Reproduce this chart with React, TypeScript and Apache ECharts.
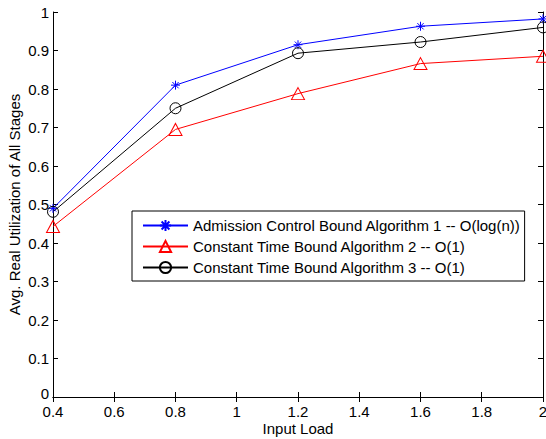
import React, { useEffect, useRef } from "react";
import * as echarts from "echarts";

const inputLoad = [0.4, 0.8, 1.2, 1.6, 2.0];
const algo1 = [0.49, 0.81, 0.915, 0.963, 0.982];
const algo2 = [0.443, 0.695, 0.788, 0.866, 0.885];
const algo3 = [0.481, 0.75, 0.893, 0.922, 0.96];
const seriesNames = [
  "Admission Control Bound Algorithm 1 -- O(log(n))",
  "Constant Time Bound Algorithm 2 -- O(1)",
  "Constant Time Bound Algorithm 3 -- O(1)",
];

const FONT = "'Liberation Sans', Arial, Helvetica, sans-serif";
const STAR = "path://M5 0 L5 10 M0 5 L10 5 M1.5 1.5 L8.5 8.5 M8.5 1.5 L1.5 8.5";
const TRI = "path://M5 0 L10 9 L0 9 Z";
const CIRC = "path://M10 5 A5 5 0 1 1 0 5 A5 5 0 1 1 10 5 Z";

const toPairs = (ys: number[]) => inputLoad.map((x, i) => [x, ys[i]]);

export default function App() {
  const ref = useRef<HTMLDivElement>(null);
  useEffect(() => {
    document.body.style.margin = "0";
    const chart = echarts.init(ref.current!, null, { renderer: "svg" });
    const axisCommon = {
      axisLine: { show: true, lineStyle: { color: "#000", width: 1 } },
      axisTick: { show: true, inside: true, length: 5, lineStyle: { color: "#000" } },
      splitLine: { show: false },
    };
    const txt = { fontFamily: FONT, fontSize: 15, color: "#000" };
    chart.setOption({
      animation: false,
      backgroundColor: "#fff",
      textStyle: { fontFamily: FONT },
      grid: {
        left: 53,
        right: 3,
        top: 12,
        bottom: 42,
        containLabel: false,
        outerBoundsMode: "none",
      },
      legend: {
        orient: "vertical",
        left: 132,
        top: 211,
        backgroundColor: "#fff",
        borderColor: "#000",
        borderWidth: 1,
        borderRadius: 0,
        padding: [7, 4, 6, 10],
        itemWidth: 45,
        itemHeight: 14,
        itemGap: 6,
        textStyle: { ...txt, lineHeight: 15 },
        data: seriesNames,
      },
      xAxis: [
        {
          type: "value",
          min: 0.4,
          max: 2,
          interval: 0.2,
          name: "Input Load",
          nameLocation: "middle",
          nameGap: 24,
          nameMoveOverlap: false,
          nameTextStyle: { ...txt, lineHeight: 14 },
          axisLabel: {
            ...txt,
            lineHeight: 12,
            margin: 8,
            formatter: (v: number) => String(Math.round(v * 10) / 10),
          },
          ...axisCommon,
        },
        {
          type: "value",
          position: "top",
          min: 0.4,
          max: 2,
          interval: 0.2,
          axisLabel: { show: false },
          ...axisCommon,
        },
      ],
      yAxis: [
        {
          type: "value",
          min: 0,
          max: 1,
          interval: 0.1,
          name: "Avg. Real Utilization of All Stages",
          nameLocation: "middle",
          nameGap: 31,
          nameMoveOverlap: false,
          nameTextStyle: txt,
          axisLabel: {
            ...txt,
            lineHeight: 12,
            margin: 4,
            formatter: (v: number) =>
              v === 0 ? "{z|0}" : String(Math.round(v * 10) / 10),
            rich: {
              z: { ...txt, lineHeight: 12, padding: [0, 0, 7, 0] },
            },
          },
          ...axisCommon,
        },
        {
          type: "value",
          position: "right",
          min: 0,
          max: 1,
          interval: 0.1,
          axisLabel: { show: false },
          ...axisCommon,
        },
      ],
      series: [
        {
          name: seriesNames[0],
          type: "line",
          data: toPairs(algo1),
          symbol: STAR,
          symbolSize: 9,
          lineStyle: { color: "#0000ff", width: 1 },
          itemStyle: { color: "transparent", borderColor: "#0000ff", borderWidth: 1 },
        },
        {
          name: seriesNames[1],
          type: "line",
          data: toPairs(algo2),
          symbol: TRI,
          symbolSize: [13, 12],
          lineStyle: { color: "#ff0000", width: 1 },
          itemStyle: { color: "transparent", borderColor: "#ff0000", borderWidth: 1 },
        },
        {
          name: seriesNames[2],
          type: "line",
          data: toPairs(algo3),
          symbol: CIRC,
          symbolSize: 11,
          lineStyle: { color: "#000000", width: 1 },
          itemStyle: { color: "transparent", borderColor: "#000000", borderWidth: 1 },
        },
      ],
    });
    return () => chart.dispose();
  }, []);
  return <div ref={ref} style={{ width: 546, height: 439 }} />;
}
